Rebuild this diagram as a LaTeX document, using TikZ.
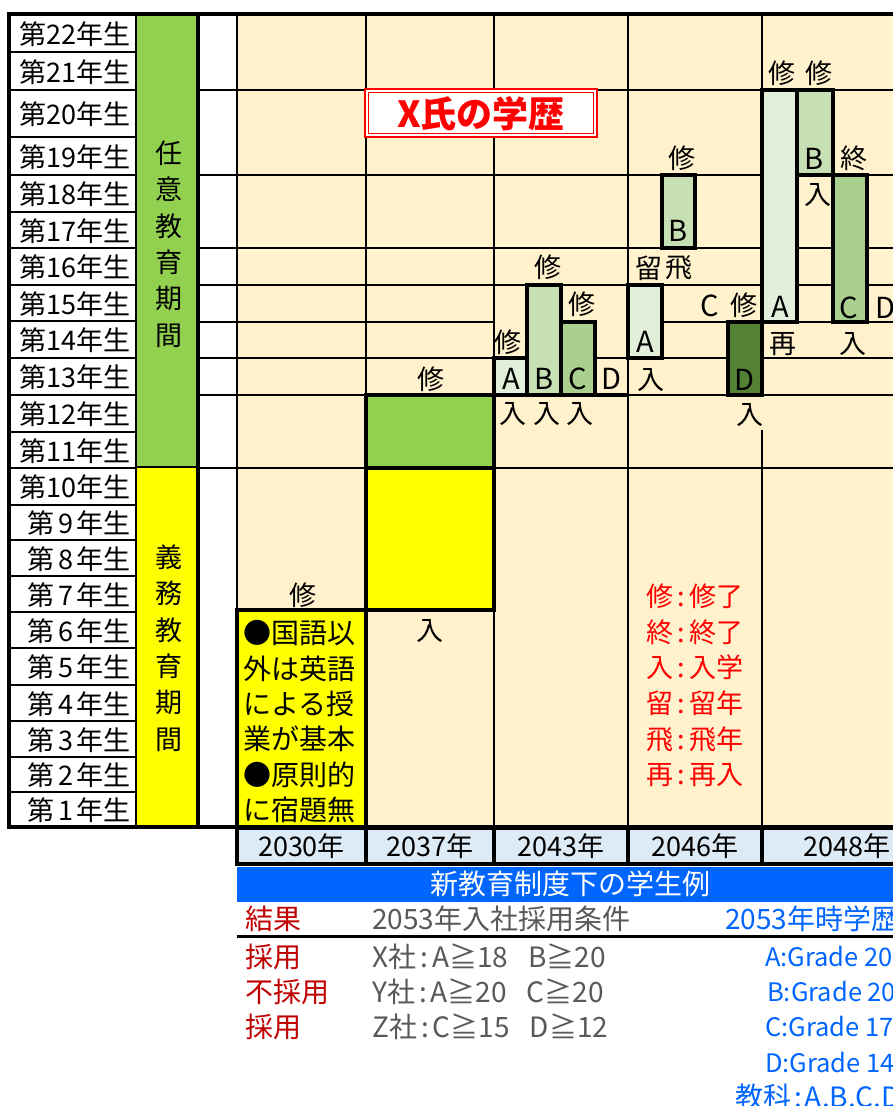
\documentclass[tikz,border=0pt]{standalone}
\usepackage{fontspec}
\setmainfont{Noto Sans CJK JP}
\definecolor{cream}{HTML}{FFF2CC}
\definecolor{ga}{HTML}{E2EFDA}
\definecolor{gb}{HTML}{C6E0B4}
\definecolor{gc}{HTML}{A9D08E}
\definecolor{gd}{HTML}{548235}
\definecolor{band}{HTML}{92D050}
\definecolor{yel}{HTML}{FFFF00}
\definecolor{yr}{HTML}{DDEBF7}
\definecolor{barblue}{HTML}{0066FF}
\definecolor{dred}{HTML}{C00000}
\definecolor{gtext}{HTML}{595959}
\definecolor{btext}{HTML}{0066FF}
\begin{document}
\begin{tikzpicture}[x=1pt,y=-1pt,
  gridline/.style={line width=1.6pt},
  heavy/.style={line width=3.6pt},
  cellch/.style={font=\fontsize{27}{30}\selectfont, inner sep=0pt},
  cellltr/.style={font=\fontsize{29}{30}\selectfont, inner sep=0pt},
  labtext/.style={font=\fontsize{27}{30}\selectfont, inner sep=0pt, anchor=east},
  memo/.style={font=\fontsize{28}{30}\selectfont, inner sep=0pt, anchor=west},
  legend/.style={font=\fontsize{27}{30}\selectfont, inner sep=0pt, anchor=west, text=red},
  yearlab/.style={font=\fontsize{27}{30}\selectfont, inner sep=0pt},
  btm/.style={font=\fontsize{28}{30}\selectfont, inner sep=0pt, anchor=west},
  btmlat/.style={font=\fontsize{25.5}{30}\selectfont, inner sep=0pt, anchor=west, text=btext},
  vband/.style={font=\fontsize{27}{36.3}\selectfont, inner sep=0pt, align=center}
]
\useasboundingbox (0,0) rectangle (893,1106);
\clip (0,0) rectangle (893,1106);
\fill[white] (0,0) rectangle (893,1106);
\fill[cream] (237,14) rectangle (900,827);
% thin grid
\draw[gridline] (200,90) -- (900,90) (200,175) -- (900,175) (200,248) -- (900,248) (200,285) -- (900,285)
  (200,322) -- (494,322) (628,322) -- (900,322)
  (200,358) -- (494,358) (595,358) -- (900,358)
  (200,395) -- (366,395) (628,395) -- (900,395)
  (200,468) -- (900,468);
\draw[gridline] (237,14) -- (237,827) (366,14) -- (366,395) (494,14) -- (494,358) (494,468) -- (494,827)
  (628,14) -- (628,827) (762,14) -- (762,90) (762,430) -- (762,827);
% bands
\fill[band] (137,14) rectangle (197,467);
\fill[yel] (137,467) rectangle (197,827);
\draw[gridline] (137,467) -- (197,467);
\node[vband] (optband) at (169,244) {任\\意\\教\\育\\期\\間};
\node[vband] (dutyband) at (169,648) {義\\務\\教\\育\\期\\間};
% label column
\foreach \t/\b/\n/\s in {14/52/22/{第22年生},52/90/21/{第21年生},90/137/20/{第20年生},137/175/19/{第19年生},
  175/212/18/{第18年生},212/248/17/{第17年生},248/285/16/{第16年生},285/321/15/{第15年生},
  321/358/14/{第14年生},358/395/13/{第13年生},395/432/12/{第12年生},432/468/11/{第11年生},
  468/505/10/{第10年生},505/540/9/{第\kern3.5pt 9\kern3.5pt 年生},540/576/8/{第\kern3.5pt 8\kern3.5pt 年生},
  576/612/7/{第\kern3.5pt 7\kern3.5pt 年生},612/648/6/{第\kern3.5pt 6\kern3.5pt 年生},648/685/5/{第\kern3.5pt 5\kern3.5pt 年生},
  685/721/4/{第\kern3.5pt 4\kern3.5pt 年生},721/757/3/{第\kern3.5pt 3\kern3.5pt 年生},757/792/2/{第\kern3.5pt 2\kern3.5pt 年生},
  792/827/1/{第\kern3.5pt 1\kern3.5pt 年生}}{
  \draw[line width=2pt, fill=white] (10,\t) rectangle (136,\b);
  \node[labtext] (lab\n) at (131,{(\t+\b)/2+1}) {\s};
}
% boxes
\draw[heavy, fill=band] (366,395) rectangle (494,468);
\draw[heavy, fill=yel] (366,468) rectangle (494,610);
\draw[heavy, fill=yel] (237,610) rectangle (366,827);
\draw[heavy, fill=ga] (494,358) rectangle (527,395);
\draw[heavy, fill=gb] (527,285) rectangle (561,395);
\draw[heavy, fill=gc] (561,322) rectangle (595,395);
\draw[heavy] (494,395) -- (628,395);
\draw[heavy, fill=ga] (628,285) rectangle (662,358);
\draw[heavy, fill=gb] (662,175) rectangle (695,248);
\draw[heavy, fill=gd] (728,322) rectangle (762,395);
\draw[heavy, fill=ga] (762,90) rectangle (797,322);
\draw[heavy, fill=gb] (797,90) rectangle (833,175);
\draw[heavy, fill=gc] (833,175) rectangle (867,322);
% chart texts
\node[cellch] (s1) at (303,595) {修};
\node[cellch] (s2) at (431,379) {修};
\node[cellch] (e2) at (430,631) {入};
\node[cellch] (s3a) at (508,342) {修};
\node[cellch] (s3b) at (548,267) {修};
\node[cellch] (s3c) at (582,304) {修};
\node[cellltr] (l3a) at (511,379) {A};
\node[cellltr] (l3b) at (544,379) {B};
\node[cellltr] (l3c) at (578,379) {C};
\node[cellltr] (l3d) at (611,379) {D};
\node[cellch] (e3a) at (513,414) {入};
\node[cellch] (e3b) at (547,414) {入};
\node[cellch] (e3c) at (580,414) {入};
\node[cellch] (r4) at (649,268) {留};
\node[cellch] (f4) at (679,268) {飛};
\node[cellltr] (l4a) at (645,342) {A};
\node[cellch] (e4a) at (651,380) {入};
\node[cellch] (s4b) at (682,158) {修};
\node[cellltr] (l4b) at (678,231) {B};
\node[cellltr] (l4c) at (710,306) {C};
\node[cellch] (s4d) at (744,305) {修};
\node[cellltr] (l4d) at (744,380) {D};
\node[cellch] (e4d) at (750,415) {入};
\node[cellch] (s5a) at (782,73) {修};
\node[cellch] (s5b) at (819,73) {修};
\node[cellltr] (l5a) at (780,307) {A};
\node[cellch] (re5a) at (783,344) {再};
\node[cellltr] (l5b) at (814,159) {B};
\node[cellch] (e5b) at (818,195) {入};
\node[cellch] (t5c) at (854,158) {終};
\node[cellltr] (l5c) at (849,308) {C};
\node[cellch] (e5c) at (853,344) {入};
\node[cellltr] (l5d) at (885,308) {D};
% memo
\foreach \i/\s in {0/{●国語以},1/{外は英語},2/{による授},3/{業が基本},4/{●原則的},5/{に宿題無}}{
  \node[memo] (memo\i) at (243,{633+35.4*\i}) {\s};
}
% legend
\foreach \i/\a/\b in {0/修/修了,1/終/終了,2/入/入学,3/留/留年,4/飛/飛年,5/再/再入}{
  \node[legend] (leg\i) at (646,{596+35.8*\i}) {\a\kern4.5pt:\kern4.5pt\b};
}
% frame
\draw[line width=3.5pt] (198,14) -- (198,827);
\draw[line width=4pt] (7,14) -- (900,14);
\draw[line width=4pt] (9,12) -- (9,829);
\draw[line width=4pt] (7,827) -- (900,827);
% title
\draw[red, line width=2pt, fill=white] (365,89) rectangle (597,137);
\draw[red, line width=1.2pt] (368.5,92.5) rectangle (593.5,133.5);
\node[font=\fontsize{36}{38}\selectfont\bfseries, text=red, inner sep=0pt] (title) at (481,114) {X氏の学歴};
% years
\foreach \a/\b/\yy in {237/366/2030,366/494/2037,494/628/2043,628/762/2046,762/932/2048}{
  \draw[heavy, fill=yr] (\a,828) rectangle (\b,864);
  \node[yearlab] (yr\yy) at ({(\a+\b)/2},846) {\yy 年};
}
% bottom section
\fill[barblue] (237,867) rectangle (900,902);
\node[font=\fontsize{28}{30}\selectfont, text=white, inner sep=0pt] (bartitle) at (570,884) {新教育制度下の学生例};
\node[btm, text=dred] (hres) at (245,919) {結果};
\node[btm, text=gtext] (hcond) at (372,919) {2053年入社採用条件};
\node[btm, text=btext] (hhist) at (725,919) {2053年時学歴};
\draw[line width=3pt] (237,936) -- (900,936);
\node[btm, text=dred] (res1) at (245,957) {採用};
\node[btm, text=dred] (res2) at (245,992) {不採用};
\node[btm, text=dred] (res3) at (245,1027) {採用};
\node[btm, text=gtext] (cond1) at (372,957) {X社\kern4pt:\kern4pt A≧18\kern20pt B≧20};
\node[btm, text=gtext] (cond2) at (372,992) {Y社\kern4pt:\kern4pt A≧20\kern20pt C≧20};
\node[btm, text=gtext] (cond3) at (372,1027) {Z社\kern4pt:\kern4pt C≧15\kern20pt D≧12};
\node[btmlat] (hist1) at (765,957) {A:Grade 20};
\node[btmlat] (hist2) at (767,992) {B:Grade 20};
\node[btmlat] (hist3) at (765,1027) {C:Grade 17};
\node[btmlat] (hist4) at (765,1063) {D:Grade 14};
\node[btm, text=btext] (hist5) at (735,1097) {教科\kern3pt:\kern3pt A.B.C.D};
\end{tikzpicture}
\end{document}
